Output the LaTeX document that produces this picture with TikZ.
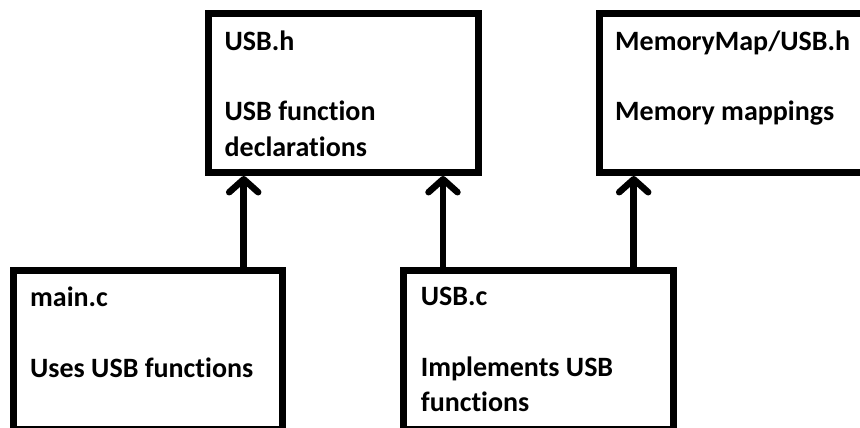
\documentclass[tikz,border=0pt]{standalone}
\usepackage{fontspec}
\setmainfont[Ligatures=NoCommon]{Carlito}
\usetikzlibrary{arrows.meta}
\newcommand{\firstline}{\rule{0pt}{20pt}}
\begin{document}
\begin{tikzpicture}[x=1pt,y=-1pt,
        filebox/.style={draw,line width=7pt,anchor=north west,inner sep=0pt,
            minimum width=#1,minimum height=159pt},
        filetext/.style={anchor=north west,inner sep=0pt,align=left,
            font=\fontsize{28}{35.5}\selectfont\bfseries},
        uses/.style={line width=6.5pt,
            -{Straight Barb[length=13pt,width=29pt,line width=0pt 1,round]}}]
        \useasboundingbox (0,0) rectangle (860,428);
        \clip (0,0) rectangle (860,428);
        %% headers
        \node[filebox=269.5pt] (usbh) at (205,10) {};
        \node[filebox=270pt] (memmap) at (595.5,10) {};
        %% sources
        \node[filebox=269.7pt] (mainc) at (9.5,266.5) {};
        \node[filebox=269.3pt] (usbc) at (400.2,266.5) {};
        %% texts
        \node[filetext] (usbhtext) at ([shift={(19.5,20)}]usbh.north west)
            {\firstline USB.h\\[35pt]USB function\\declarations};
        \node[filetext] (memmaptext) at ([shift={(19.5,20)}]memmap.north west)
            {\firstline MemoryMap/USB.h\\[35pt]Memory mappings};
        \node[filetext] (maintext) at ([shift={(20.5,20)}]mainc.north west)
            {\firstline main.c\\[35pt]Uses USB functions};
        \node[filetext] (usbctext) at ([shift={(20.5,19)}]usbc.north west)
            {\firstline USB.c\\[35pt]Implements USB\\functions};
        %% includes
        \coordinate (x1) at (243.7,0);
        \coordinate (x2) at (443,0);
        \coordinate (x3) at (633.7,0);
        \draw[uses] (mainc.north -| x1) -- (usbh.south -| x1);
        \draw[uses] (usbc.north -| x2) -- (usbh.south -| x2);
        \draw[uses] (usbc.north -| x3) -- (memmap.south -| x3);
    \end{tikzpicture}
\end{document}
